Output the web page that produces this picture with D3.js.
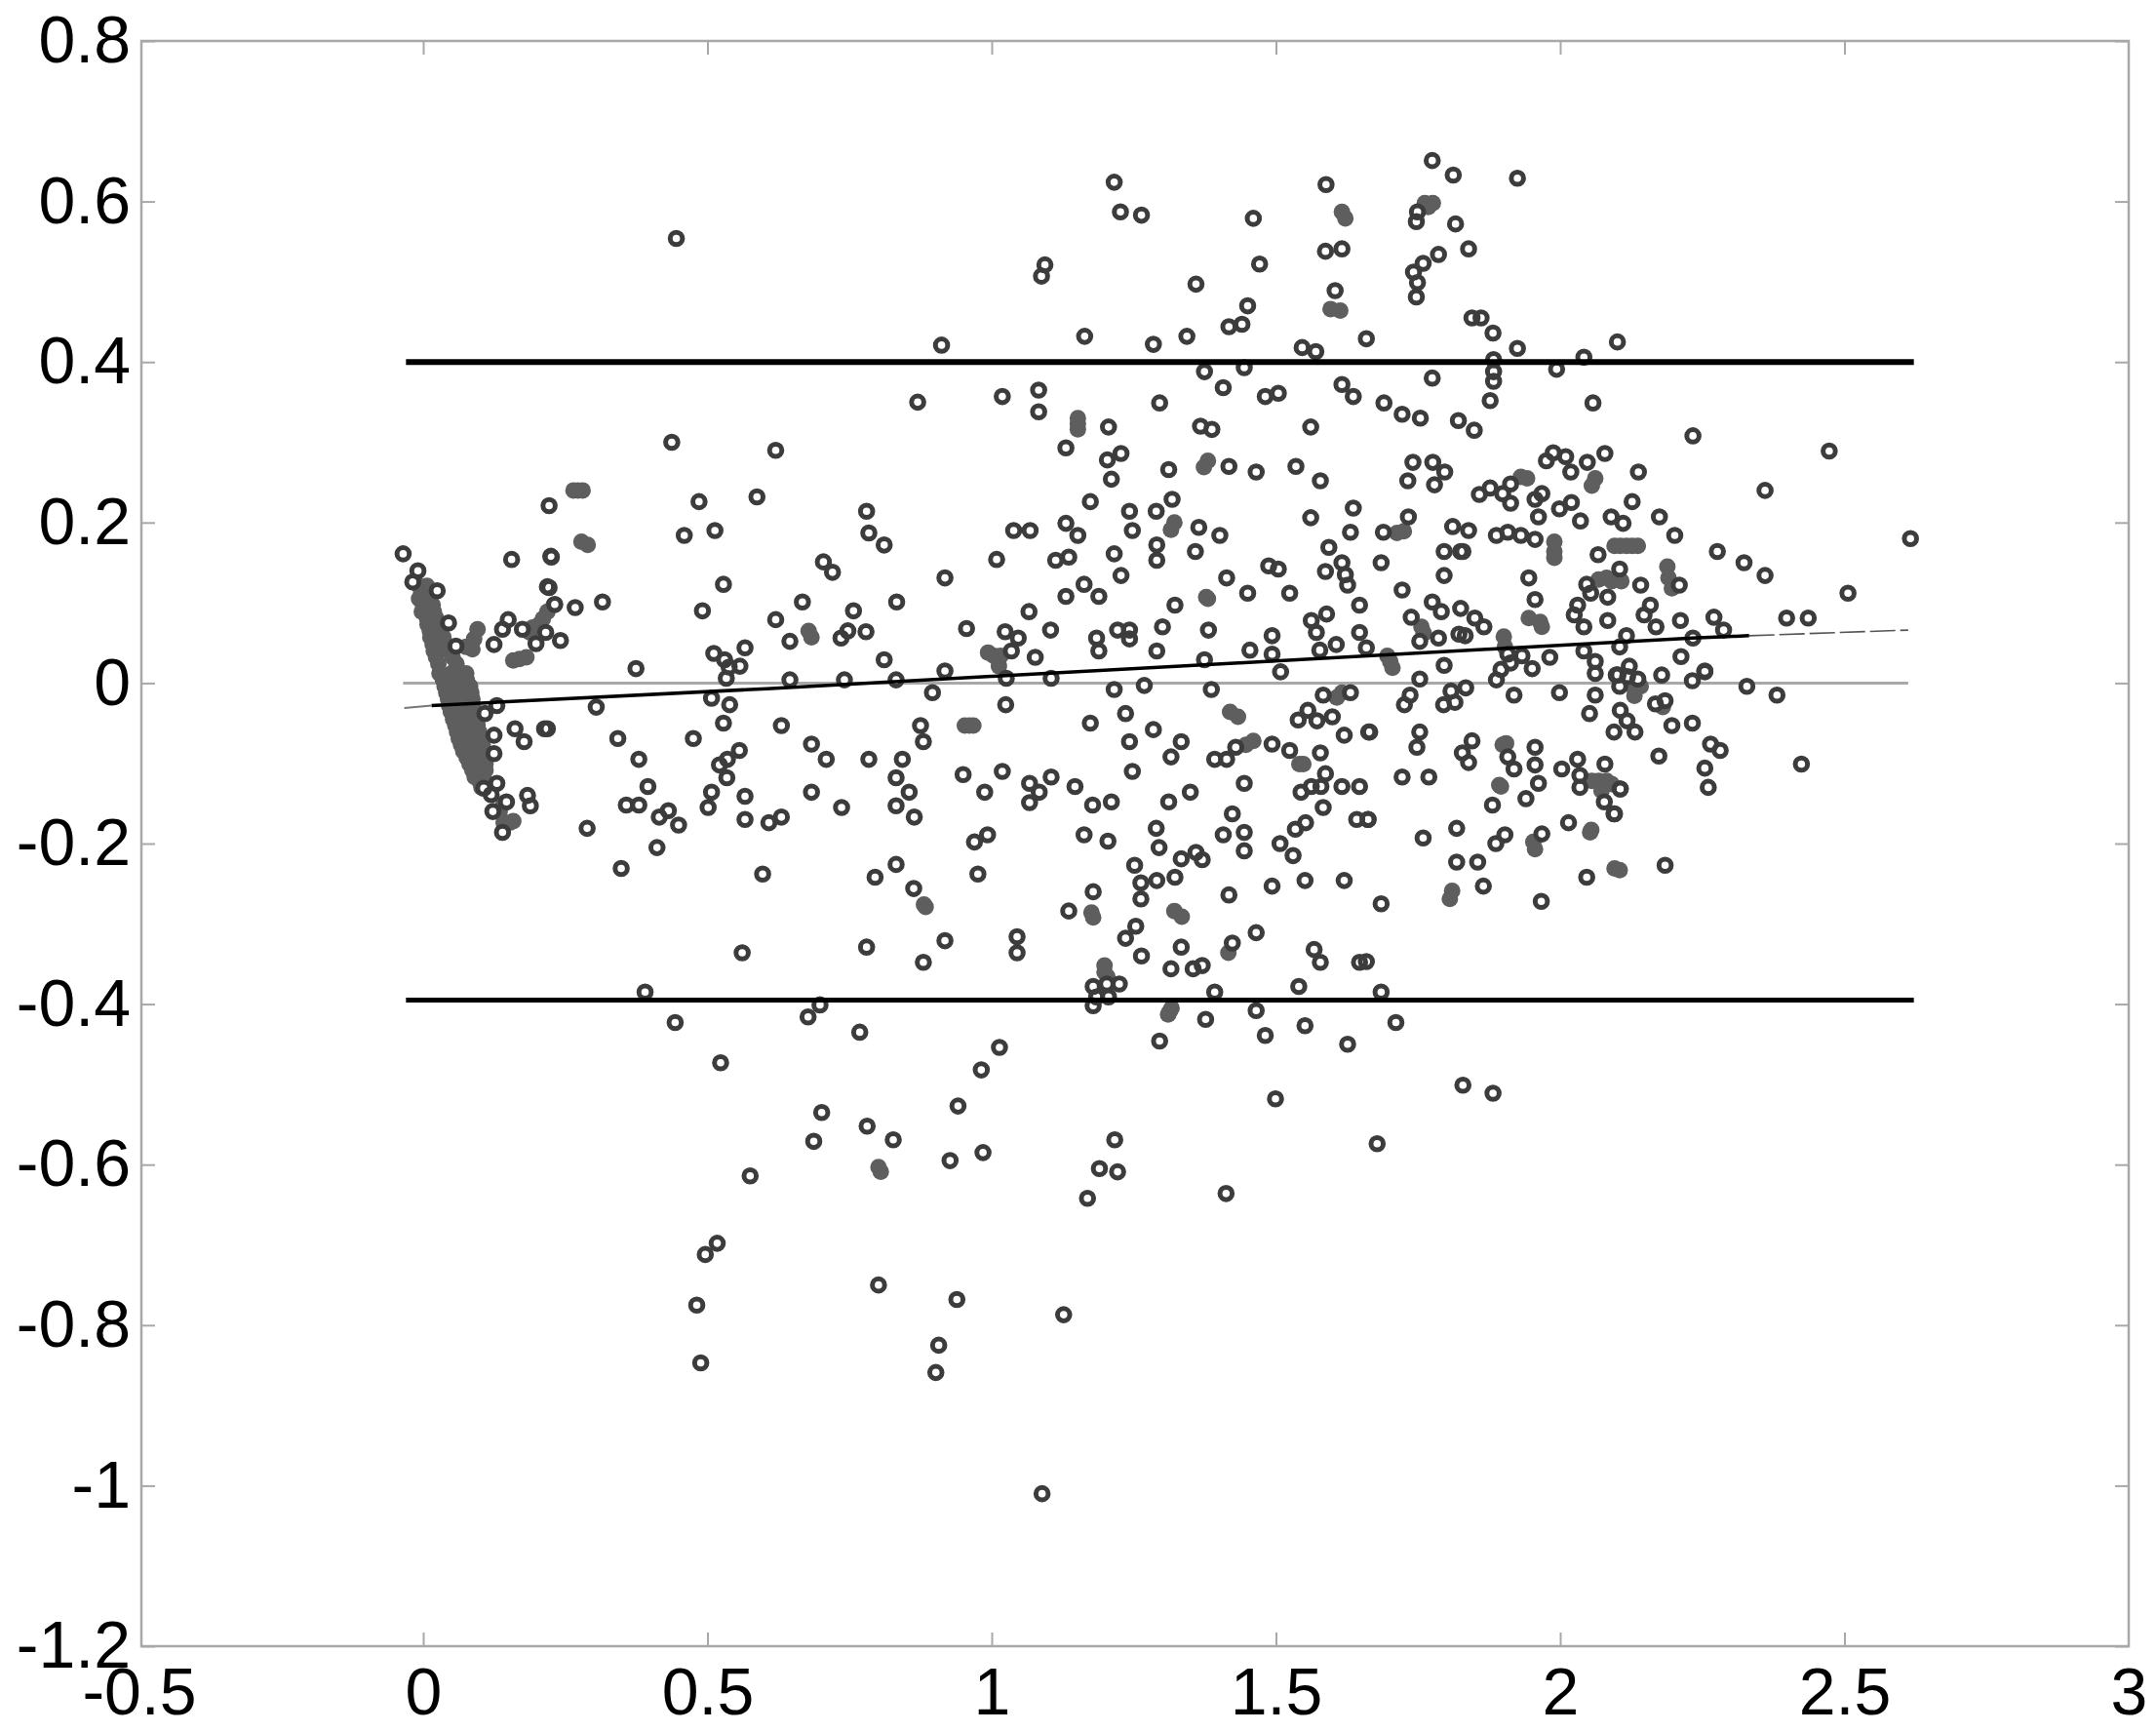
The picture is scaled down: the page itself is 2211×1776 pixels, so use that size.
<!DOCTYPE html>
<html><head><meta charset="utf-8">
<script src="https://cdn.jsdelivr.net/npm/d3@7"></script>
<style>
html,body{margin:0;padding:0;background:#fff}
svg{display:block;filter:blur(.7px)}
text{font-family:"Liberation Sans",Arial,sans-serif;font-size:68px;fill:#000}
</style></head><body>
<svg id="chart" width="2211" height="1776"></svg>
<script>
const xTicks=[-0.5,0,0.5,1,1.5,2,2.5,3];
const xTickLabels=["-0.5","0","0.5","1","1.5","2","2.5","3"];
const yTicks=[0.8,0.6,0.4,0.2,0,-0.2,-0.4,-0.6,-0.8,-1,-1.2];
const yTickLabels=["0.8","0.6","0.4","0.2","0","-0.2","-0.4","-0.6","-0.8","-1","-1.2"];
const zeroLineX=[-0.04,2.61];
const limitLineX=[-0.035,2.62];
const upperLimit=0.4;
const lowerLimit=-0.395;
const fitCore=[[0.01,-0.028],[0.6,-0.007],[2.23,0.056],[2.33,0.059]];
const fitLeftTail=[[-0.038,-0.031],[0.01,-0.028]];
const fitRightTail=[[2.33,0.059],[2.61,0.066]];

// dense wedge and overlapping clumps, read as solid gray
const wedgePoints=[[-0.012,0.121],[0.002,0.121],[-0.008,0.113],[0.005,0.113],[-0.012,0.105],[0.008,0.105],[-0.005,0.097],[0.012,0.097],[-0.007,0.089],[0.014,0.089],[0.002,0.081],[0.018,0.081],[0.003,0.073],[0.022,0.073],[0.007,0.065],[0.026,0.065],[0.008,0.057],[0.031,0.057],[0.012,0.048],[0.036,0.048],[0.014,0.04],[0.042,0.04],[0.018,0.032],[0.047,0.032],[0.022,0.024],[0.054,0.024],[0.024,0.012],[0.045,0.012],[0.071,0.012],[0.03,0.004],[0.05,0.004],[0.072,0.004],[0.033,-0.004],[0.057,-0.004],[0.078,-0.004],[0.036,-0.012],[0.06,-0.012],[0.08,-0.012],[0.039,-0.02],[0.062,-0.02],[0.082,-0.02],[0.041,-0.028],[0.065,-0.028],[0.083,-0.028],[0.044,-0.036],[0.068,-0.036],[0.085,-0.036],[0.048,-0.045],[0.071,-0.045],[0.088,-0.045],[0.052,-0.053],[0.074,-0.053],[0.091,-0.053],[0.055,-0.061],[0.077,-0.061],[0.094,-0.061],[0.058,-0.069],[0.08,-0.069],[0.097,-0.069],[0.062,-0.077],[0.082,-0.077],[0.1,-0.077],[0.066,-0.085],[0.085,-0.085],[0.102,-0.085],[0.072,-0.093],[0.09,-0.093],[0.103,-0.093],[0.077,-0.101],[0.094,-0.101],[0.105,-0.101],[0.082,-0.109],[0.097,-0.109],[0.105,-0.109],[0.086,-0.117],[0.1,-0.117],[0.096,-0.124],[0.106,-0.124],[0.098,-0.13],[0.106,-0.13]];
const clumpLeft=[[0.2,0.073],[0.214,0.089],[0.225,0.097],[0.188,0.069],[0.183,0.063],[0.206,0.08],[0.091,0.067],[0.085,0.055],[0.082,0.042],[0.071,0.045],[0.165,0.03],[0.154,0.028],[0.177,0.032],[0.26,0.24],[0.268,0.24],[0.276,0.24],[0.274,0.176],[0.285,0.172],[0.148,-0.174],[0.137,-0.174],[0.154,-0.172],[0.137,-0.15],[0.13,-0.16]];
const clumpMiddle=[[0.674,0.065],[0.679,0.057],[0.949,-0.053],[0.957,-0.053],[0.964,-0.053],[0.88,-0.279],[0.877,-0.276],[0.801,-0.609],[0.797,-0.603],[1,0.034],[1.009,0.021],[0.99,0.038],[1.012,0.034],[1.148,0.323],[1.148,0.33],[1.148,0.316],[1.377,0.277],[1.37,0.269],[1.318,0.2],[1.312,0.191],[1.374,0.107],[1.377,0.105],[1.172,-0.286],[1.175,-0.292],[1.318,-0.284],[1.331,-0.291],[1.413,-0.336],[1.195,-0.352],[1.195,-0.36],[1.2,-0.366],[1.313,-0.405],[1.307,-0.413],[1.31,-0.409]];
const clumpUpperRight=[[1.613,0.587],[1.619,0.579],[1.593,0.466],[1.61,0.464],[1.759,0.598],[1.773,0.598],[1.765,0.593],[1.722,0.189],[1.71,0.187],[1.753,0.07],[1.757,0.062],[1.693,0.034],[1.702,0.019],[1.698,0.027],[1.928,0.257],[1.939,0.255],[2.059,0.255],[2.053,0.246],[1.987,0.176],[1.987,0.164],[1.987,0.156],[2.093,0.171],[2.103,0.171],[2.114,0.171],[2.124,0.171],[2.134,0.171],[2.079,0.131],[2.065,0.129],[2.088,0.127],[2.105,0.127],[2.186,0.145],[2.188,0.131],[2.194,0.118],[1.942,0.081],[1.962,0.076],[1.965,0.07],[1.898,0.058],[1.9,0.045]];
const clumpLowerRight=[[1.416,-0.036],[1.43,-0.042],[1.444,-0.077],[1.457,-0.072],[1.538,-0.101],[1.545,-0.101],[1.604,-0.018],[1.613,-0.012],[1.902,-0.075],[1.896,-0.077],[1.89,-0.127],[1.893,-0.129],[2.053,-0.122],[2.065,-0.122],[2.079,-0.122],[2.088,-0.126],[2.07,-0.134],[2.052,-0.183],[2.05,-0.186],[1.95,-0.198],[1.953,-0.207],[1.807,-0.259],[1.803,-0.269],[2.093,-0.231],[2.102,-0.233],[2.139,-0.004],[2.128,-0.016],[2.125,-0.004],[2.178,-0.03]];

// separately visible rings
const ringsLeft=[[-0.04,0.161],[-0.014,0.14],[-0.023,0.126],[0.02,0.115],[0.04,0.075],[0.053,0.046],[0.151,0.154],[0.22,0.158],[0.214,0.12],[0.227,0.098],[0.145,0.079],[0.135,0.067],[0.12,0.048],[0.17,0.067],[0.211,0.063],[0.194,0.049],[0.237,0.053],[0.125,-0.028],[0.104,-0.038],[0.12,-0.065],[0.12,-0.088],[0.157,-0.057],[0.173,-0.073],[0.209,-0.057],[0.125,-0.125],[0.102,-0.131],[0.115,-0.139],[0.142,-0.148],[0.118,-0.16],[0.179,-0.14],[0.184,-0.153],[0.135,-0.186],[0.217,0.221],[0.221,0.157],[0.217,0.119],[0.311,0.101],[0.263,0.094]];
const ringsUpperMiddle=[[0.441,0.554],[0.908,0.421],[0.866,0.35],[0.433,0.3],[0.616,0.29],[0.481,0.226],[0.583,0.232],[0.455,0.184],[0.509,0.19],[0.776,0.214],[0.78,0.187],[0.807,0.172],[0.7,0.151],[0.716,0.138],[0.914,0.131],[0.524,0.123],[0.487,0.09],[0.663,0.101],[0.616,0.079],[0.753,0.09],[0.829,0.101],[0.952,0.068],[0.641,0.052],[0.775,0.064],[0.743,0.065],[0.731,0.056],[0.807,0.029],[0.562,0.044],[0.507,0.037],[0.526,0.029],[0.553,0.021],[0.534,0.02],[0.37,0.018],[0.529,0.006],[0.641,0.004],[0.737,0.004],[0.828,0.004],[0.914,0.015]];
const ringsUpperCentre=[[1.212,0.624],[1.223,0.587],[1.26,0.583],[1.09,0.521],[1.084,0.507],[1.457,0.579],[1.468,0.522],[1.356,0.497],[1.447,0.47],[1.437,0.447],[1.414,0.444],[1.34,0.432],[1.281,0.422],[1.16,0.432],[1.585,0.621],[1.584,0.538],[1.613,0.541],[1.601,0.489],[1.656,0.429],[1.543,0.418],[1.567,0.413],[1.772,0.651],[1.809,0.633],[1.746,0.587],[1.744,0.575],[1.813,0.572],[1.783,0.534],[1.756,0.523],[1.739,0.512],[1.746,0.499],[1.744,0.481],[1.772,0.38],[1.371,0.388],[1.441,0.393],[1.404,0.368],[1.478,0.357],[1.501,0.361],[1.613,0.372],[1.633,0.357],[1.687,0.349],[1.719,0.335],[1.751,0.33],[1.818,0.327],[1.015,0.357],[1.079,0.365],[1.079,0.338],[1.202,0.319],[1.127,0.293],[1.292,0.349],[1.558,0.319],[1.364,0.32],[1.384,0.316],[1.414,0.27],[1.462,0.263],[1.532,0.27],[1.575,0.252],[1.308,0.266],[1.224,0.286],[1.2,0.278],[1.207,0.254],[1.738,0.275],[1.773,0.275],[1.794,0.263],[1.729,0.252],[1.776,0.247]];
const ringsCentre=[[1.17,0.226],[1.314,0.229],[1.286,0.214],[1.239,0.214],[1.244,0.19],[1.361,0.194],[1.398,0.184],[1.035,0.19],[1.064,0.19],[1.127,0.199],[1.148,0.184],[1.287,0.172],[1.287,0.153],[1.355,0.164],[1.132,0.157],[1.109,0.153],[1.212,0.161],[1.005,0.154],[1.224,0.134],[1.159,0.123],[1.127,0.108],[1.185,0.108],[1.319,0.097],[1.41,0.131],[1.447,0.112],[1.521,0.112],[1.484,0.146],[1.501,0.142],[1.558,0.206],[1.633,0.218],[1.628,0.188],[1.59,0.169],[1.613,0.15],[1.584,0.139],[1.619,0.135],[1.623,0.122],[1.682,0.15],[1.686,0.188],[1.73,0.207],[1.808,0.195],[1.793,0.164],[1.822,0.164],[1.793,0.134],[1.719,0.116],[1.772,0.101],[1.788,0.089],[1.822,0.093],[1.644,0.097],[1.735,0.082],[1.75,0.052],[1.783,0.056],[1.819,0.061],[1.586,0.086],[1.559,0.078],[1.568,0.063],[1.644,0.063],[1.603,0.048],[1.574,0.041],[1.656,0.044],[1.793,0.022],[1.49,0.059],[1.49,0.036],[1.451,0.041],[1.505,0.014],[1.378,0.066],[1.297,0.07],[1.287,0.04],[1.371,0.029],[1.218,0.066],[1.239,0.066],[1.239,0.055],[1.181,0.056],[1.185,0.04],[1.1,0.066],[1.062,0.089],[1.02,0.064],[1.043,0.056],[1.031,0.04],[1.073,0.032],[1.022,0.006],[1.101,0.006]];
const ringsUpperRight=[[1.922,0.629],[1.836,0.541],[1.842,0.455],[1.858,0.455],[1.879,0.436],[1.922,0.417],[1.88,0.403],[1.88,0.388],[1.88,0.376],[1.874,0.352],[1.991,0.391],[2.039,0.406],[2.098,0.425],[2.055,0.349],[2.231,0.308],[2.471,0.289],[2.358,0.24],[1.846,0.315],[2.076,0.286],[1.985,0.287],[2.007,0.282],[1.973,0.277],[2.045,0.275],[2.016,0.263],[2.135,0.263],[2.124,0.226],[2.172,0.207],[2.199,0.184],[2.274,0.164],[2.321,0.15],[2.358,0.134],[2.504,0.112],[2.614,0.18],[2.396,0.081],[2.434,0.081],[2.268,0.082],[2.285,0.066],[2.231,0.056],[2.209,0.078],[2.21,0.033],[2.252,0.014],[1.91,0.248],[1.874,0.243],[1.855,0.235],[1.896,0.236],[1.91,0.224],[1.965,0.236],[1.953,0.229],[1.959,0.207],[1.996,0.217],[2.017,0.225],[2.033,0.202],[2.087,0.207],[2.108,0.199],[1.885,0.184],[1.905,0.188],[1.928,0.184],[1.953,0.179],[1.836,0.19],[1.826,0.164],[2.064,0.16],[2.102,0.142],[2.044,0.123],[2.051,0.112],[2.081,0.107],[2.139,0.122],[2.207,0.122],[1.942,0.131],[1.953,0.104],[2.028,0.097],[2.022,0.085],[2.039,0.07],[2.081,0.078],[2.156,0.097],[2.145,0.085],[2.166,0.07],[2.114,0.059],[2.102,0.045],[1.847,0.081],[1.863,0.07],[1.83,0.059],[1.979,0.032],[1.905,0.036],[1.93,0.034],[1.91,0.025],[1.948,0.018],[1.893,0.017],[1.885,0.004],[2.039,0.04],[2.059,0.027],[2.059,0.012],[2.096,0.01],[2.119,0.021],[2.134,0.005],[2.176,0.01],[1.75,0.005]];
const ringsLowerRight=[[2.326,-0.004],[2.379,-0.015],[2.252,0.015],[2.23,0.003],[2.116,0.008],[2.099,0.01],[2.102,-0.004],[2.182,-0.022],[2.165,-0.026],[2.194,-0.053],[2.23,-0.05],[2.103,-0.034],[2.115,-0.047],[2.092,-0.061],[2.129,-0.061],[2.262,-0.076],[2.279,-0.084],[2.252,-0.106],[2.258,-0.13],[2.422,-0.101],[2.171,-0.091],[2.103,-0.132],[2.093,-0.163],[2.182,-0.227],[1.916,-0.015],[1.996,-0.012],[2.059,-0.015],[2.049,-0.038],[1.733,-0.015],[1.723,-0.027],[1.805,-0.01],[1.792,-0.027],[1.812,-0.024],[1.831,-0.006],[1.662,-0.061],[1.75,-0.061],[1.745,-0.08],[1.842,-0.072],[1.825,-0.087],[1.836,-0.099],[1.905,-0.092],[1.916,-0.107],[1.953,-0.08],[1.953,-0.102],[1.959,-0.125],[1.719,-0.117],[1.766,-0.117],[1.937,-0.144],[1.878,-0.152],[2,-0.107],[2.028,-0.095],[2.032,-0.115],[2.032,-0.13],[2.076,-0.101],[2.103,-0.132],[2.075,-0.148],[2.092,-0.163],[1.659,-0.17],[2.012,-0.174],[1.815,-0.181],[1.756,-0.193],[1.9,-0.189],[1.884,-0.2],[1.965,-0.188],[1.815,-0.223],[1.852,-0.223],[1.862,-0.253],[1.682,-0.275],[1.964,-0.272],[2.044,-0.242],[1.682,-0.385],[1.708,-0.423],[1.656,-0.347]];
const ringsLowerCentre=[[1.212,-0.008],[1.265,-0.003],[1.383,-0.008],[1.021,-0.027],[1.17,-0.05],[1.232,-0.038],[1.281,-0.058],[1.239,-0.073],[1.33,-0.073],[1.312,-0.092],[1.244,-0.11],[1.015,-0.11],[0.984,-0.136],[1.063,-0.125],[1.08,-0.136],[1.063,-0.149],[1.101,-0.117],[1.143,-0.129],[1.174,-0.152],[1.207,-0.148],[1.308,-0.148],[1.346,-0.136],[1.441,-0.125],[1.389,-0.095],[1.41,-0.095],[1.426,-0.08],[1.49,-0.076],[1.521,-0.084],[1.575,-0.087],[1.536,-0.046],[1.553,-0.034],[1.569,-0.047],[1.596,-0.042],[1.58,-0.015],[1.628,-0.012],[1.617,-0.065],[1.66,-0.061],[1.584,-0.113],[1.541,-0.136],[1.559,-0.129],[1.576,-0.129],[1.613,-0.129],[1.644,-0.129],[1.58,-0.155],[1.639,-0.17],[1.659,-0.17],[1.549,-0.174],[1.531,-0.182],[1.42,-0.163],[1.404,-0.189],[1.441,-0.186],[1.441,-0.209],[1.504,-0.2],[1.527,-0.215],[1.159,-0.189],[1.201,-0.197],[1.286,-0.181],[1.291,-0.205],[1.33,-0.219],[1.356,-0.211],[1.367,-0.22],[1.248,-0.227],[1.319,-0.242],[1.287,-0.246],[1.259,-0.249],[1.259,-0.269],[1.175,-0.26],[1.132,-0.284],[1.49,-0.253],[1.414,-0.264],[1.548,-0.246],[1.617,-0.246],[1.25,-0.303],[1.232,-0.318],[1.041,-0.316],[1.041,-0.336],[1.26,-0.34],[1.33,-0.329],[1.312,-0.356],[1.351,-0.356],[1.367,-0.352],[1.462,-0.311],[1.42,-0.324],[1.564,-0.332],[1.575,-0.348],[1.644,-0.348],[1.537,-0.378],[1.389,-0.385],[1.175,-0.378],[1.199,-0.375],[1.221,-0.375],[1.181,-0.391],[1.202,-0.391],[1.175,-0.402],[1.373,-0.419],[1.462,-0.408],[1.478,-0.439],[1.548,-0.427],[1.623,-0.45],[1.292,-0.446],[1.01,-0.454],[0.978,-0.482]];
const ringsLowerMiddle=[[0.3,-0.03],[0.503,-0.019],[0.535,-0.027],[0.892,-0.012],[0.214,-0.057],[0.338,-0.069],[0.471,-0.069],[0.524,-0.05],[0.626,-0.053],[0.679,-0.076],[0.705,-0.095],[0.78,-0.095],[0.839,-0.095],[0.871,-0.053],[0.876,-0.073],[0.375,-0.095],[0.552,-0.084],[0.531,-0.095],[0.517,-0.102],[0.53,-0.118],[0.828,-0.118],[0.851,-0.136],[0.828,-0.153],[0.86,-0.167],[0.946,-0.114],[0.391,-0.129],[0.375,-0.152],[0.353,-0.152],[0.427,-0.159],[0.411,-0.167],[0.445,-0.177],[0.503,-0.136],[0.497,-0.155],[0.562,-0.141],[0.562,-0.17],[0.626,-0.167],[0.604,-0.174],[0.679,-0.136],[0.732,-0.155],[0.284,-0.181],[0.407,-0.205],[0.344,-0.231],[0.593,-0.238],[0.989,-0.189],[0.966,-0.198],[0.972,-0.238],[0.828,-0.226],[0.791,-0.242],[0.859,-0.256],[0.914,-0.321],[0.876,-0.348],[0.776,-0.329],[0.557,-0.336],[0.386,-0.385],[0.694,-0.401],[0.673,-0.416],[0.439,-0.423],[0.764,-0.435],[0.519,-0.473]];
const ringsBottom=[[0.697,-0.535],[0.683,-0.571],[0.777,-0.552],[0.823,-0.569],[0.937,-0.527],[0.923,-0.595],[0.981,-0.585],[0.571,-0.614],[0.513,-0.698],[0.492,-0.712],[0.477,-0.775],[0.484,-0.847],[0.797,-0.75],[0.935,-0.768],[0.903,-0.825],[0.898,-0.859],[1.123,-0.787],[1.085,-1.01],[1.165,-0.642],[1.186,-0.605],[1.218,-0.609],[1.213,-0.569],[1.409,-0.636],[1.496,-0.518],[1.675,-0.574],[1.826,-0.501],[1.879,-0.511]];

const width=2211,height=1776;
const plotLeft=145,plotRight=2183,plotTop=42,plotBottom=1688;
const gridGray="#a8a8a8";
const x=d3.scaleLinear().domain([-0.5,3]).range([145.5,2184]);
const xTickScale=d3.scaleLinear().domain([-0.5,3]).range([142.5,2183]);
const y=d3.scaleLinear().domain([-1.2,0.8]).range([plotBottom,plotTop]);
const svg=d3.select("#chart");
const line=d3.line().x(d=>x(d[0])).y(d=>y(d[1]));

function styleAxis(g){
  g.selectAll("path.domain").remove();
  g.selectAll(".tick line").attr("stroke",gridGray).attr("stroke-width",2);
  g.selectAll(".tick text").attr("fill","#000").style("font-size","68px").style("font-family",'"Liberation Sans",Arial,sans-serif');
}
function dropEdgeTickLines(g){
  g.selectAll(".tick line").filter(d=>d===xTicks[0]||d===xTicks[xTicks.length-1]).remove();
}
const xLabel=d=>xTickLabels[xTicks.indexOf(d)];
const yLabel=d=>yTickLabels[yTicks.indexOf(d)];
svg.append("rect").attr("x",plotLeft).attr("y",plotTop).attr("width",plotRight-plotLeft).attr("height",plotBottom-plotTop)
  .attr("fill","none").attr("stroke",gridGray).attr("stroke-width",2.5);
svg.append("g").attr("transform",`translate(0,${plotBottom})`)
  .call(d3.axisBottom(xTickScale).tickValues(xTicks).tickFormat(xLabel).tickSizeInner(-14).tickSizeOuter(0).tickPadding(22)).call(styleAxis).call(dropEdgeTickLines);
svg.append("g").attr("transform",`translate(${plotLeft},0)`)
  .call(d3.axisLeft(y).tickValues(yTicks).tickFormat(yLabel).tickSizeInner(-14).tickSizeOuter(0).tickPadding(11)).call(styleAxis);
svg.append("g").attr("transform",`translate(0,${plotTop})`)
  .call(d3.axisTop(xTickScale).tickValues(xTicks).tickFormat("").tickSizeInner(-14).tickSizeOuter(0)).call(styleAxis).call(dropEdgeTickLines);
svg.append("g").attr("transform",`translate(${plotRight},0)`)
  .call(d3.axisRight(y).tickValues(yTicks).tickFormat("").tickSizeInner(-14).tickSizeOuter(0)).call(styleAxis);

svg.append("path").attr("d",line(zeroLineX.map(v=>[v,0]))).attr("fill","none").attr("stroke",gridGray).attr("stroke-width",3);

const solid=wedgePoints.concat(clumpLeft,clumpMiddle,clumpUpperRight,clumpLowerRight);
svg.append("g").selectAll("circle").data(solid).join("circle")
  .attr("cx",d=>x(d[0])).attr("cy",d=>y(d[1])).attr("r",8.5).attr("fill","#5e5e5e");

const rings=ringsLeft.concat(ringsUpperMiddle,ringsUpperCentre,ringsCentre,ringsUpperRight,ringsLowerRight,ringsLowerCentre,ringsLowerMiddle,ringsBottom);
svg.append("g").selectAll("circle").data(rings).join("circle")
  .attr("cx",d=>x(d[0])).attr("cy",d=>y(d[1])).attr("r",5).attr("fill","#fff");
svg.append("g").selectAll("circle").data(rings).join("circle")
  .attr("cx",d=>x(d[0])).attr("cy",d=>y(d[1])).attr("r",6.3).attr("fill","none").attr("stroke","#3c3c3c").attr("stroke-width",5);

svg.append("path").attr("d",line(limitLineX.map(v=>[v,upperLimit]))).attr("fill","none").attr("stroke","#000").attr("stroke-width",6);
svg.append("path").attr("d",line(limitLineX.map(v=>[v,lowerLimit]))).attr("fill","none").attr("stroke","#000").attr("stroke-width",5);
svg.append("path").attr("d",line(fitCore)).attr("fill","none").attr("stroke","#000").attr("stroke-width",3.5);
svg.append("path").attr("d",line(fitLeftTail)).attr("fill","none").attr("stroke","#777").attr("stroke-width",2);
svg.append("path").attr("d",line(fitRightTail)).attr("fill","none").attr("stroke","#555").attr("stroke-width",1.6).attr("stroke-dasharray","26 5");
</script>
</body></html>
